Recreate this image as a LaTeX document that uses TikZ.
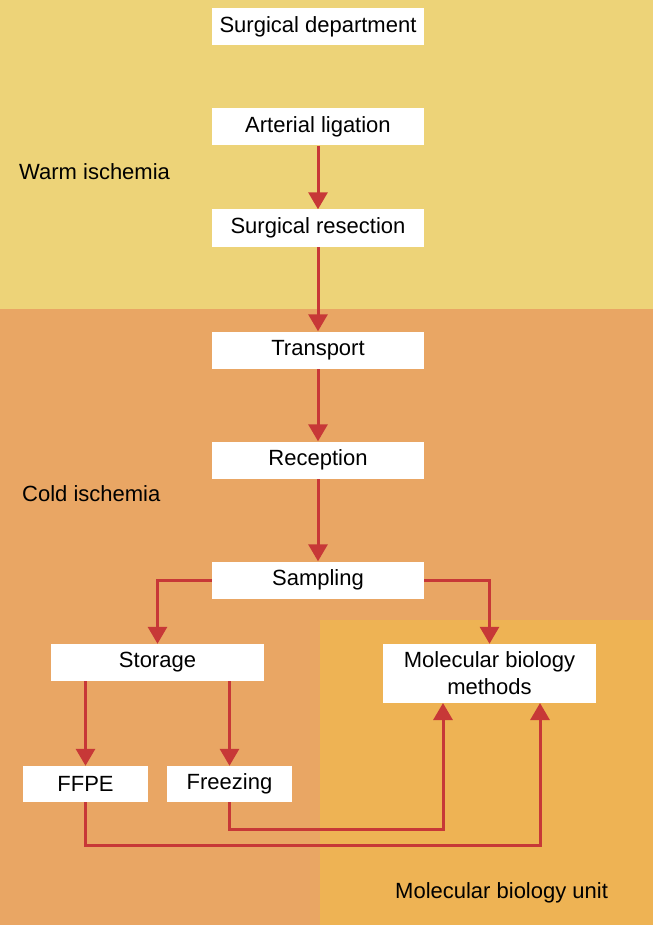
\documentclass[tikz,border=0pt]{standalone}
\usepackage{fontspec}
\setmainfont{Liberation Sans}
\usetikzlibrary{arrows.meta}
\pgfdeclarelayer{bg}
\pgfsetlayers{bg,main}
\def\gprgb#1#2#3{rgb,255:red,#1;green,#2;blue,#3}
\tikzset{
  box/.style={shape=rectangle,fill=white,inner sep=0pt,minimum height=37pt,text=black,font=\fontsize{22}{27}\selectfont},
  lbl/.style={anchor=west,inner sep=0pt,text=black,font=\fontsize{22}{27}\selectfont},
  link/.style={line width=3pt,color=\gprgb{199}{56}{55},-{Triangle[length=17pt,width=19pt]}}
}

\begin{document}
\begin{tikzpicture}[x=1pt,y=-1pt]
\useasboundingbox (0,0) rectangle (653,925);

% Put legends if any...
\node (w) at (19,172) [lbl] {Warm ischemia};
\node (c) at (22,494) [lbl] {Cold ischemia};
\node (u) at (395,893) [lbl] {Molecular biology unit};

% Draw the nodes...
\node (0) at (318,26.5) [box,minimum width=212pt] {Surgical department};
\node (1) at (318,127) [box,minimum width=212pt] {Arterial ligation};
\node (2) at (318,228) [box,minimum width=212pt] {Surgical resection};
\node (3) at (318,350) [box,minimum width=212pt] {Transport};
\node (4) at (318,460) [box,minimum width=212pt] {Reception};
\node (5) at (318,580) [box,minimum width=212pt] {Sampling};
\node (6) at (157.5,662.5) [box,minimum width=213pt] {Storage};
\node (7) at (489.5,673.5) [box,minimum width=213pt,minimum height=59pt,align=center] {Molecular biology\\methods};
\node (8) at (85.5,784) [box,minimum width=125pt,minimum height=36pt] {FFPE};
\node (9) at (229.5,784) [box,minimum width=125pt,minimum height=36pt] {Freezing};
\coordinate (7a) at (443,703);
\coordinate (7b) at (540,703);

% Draw the edges...
\begin{pgfonlayer}{bg}
\fill[fill=\gprgb{237}{211}{120}] (0,0) rectangle (653,309);
\fill[fill=\gprgb{233}{166}{100}] (0,309) rectangle (653,925);
\fill[fill=\gprgb{238}{179}{84}] (320,620) rectangle (653,925);

\draw[link] (1.south) -- (2.north);
\draw[link] (2.south) -- (3.north);
\draw[link] (3.south) -- (4.north);
\draw[link] (4.south) -- (5.north);
\draw[link] (5.west) -| (6.north);
\draw[link] (5.east) -| (7.north);
\draw[link] (6.south -| 8.north) -- (8.north);
\draw[link] (6.south -| 9.north) -- (9.north);
\draw[link] (9.south) -- ++(0,27) -| (7a);
\draw[link] (8.south) -- ++(0,43) -| (7b);

\end{pgfonlayer}

\end{tikzpicture}
\end{document}
